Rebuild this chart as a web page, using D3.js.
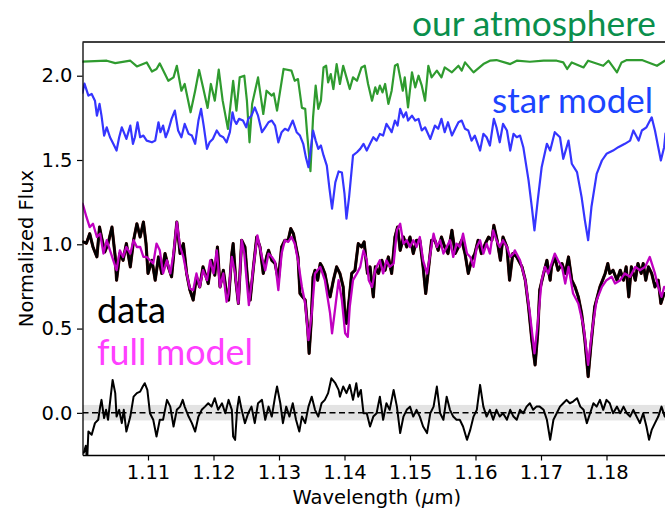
<!DOCTYPE html>
<html><head><meta charset="utf-8">
<script src="https://cdn.jsdelivr.net/npm/d3@7"></script>
<style>body{margin:0;background:#fff}svg{display:block}</style>
</head><body>
<svg id="chart" width="665" height="513"></svg>
<script>
// ---- data (wavelength in micron, normalized flux) ----
const xTicks = [1.11, 1.12, 1.13, 1.14, 1.15, 1.16, 1.17, 1.18];
const yTicks = [0.0, 0.5, 1.0, 1.5, 2.0];
const xDomain = [1.1, 1.19];
const yDomain = [-0.25, 2.2];
const residualBand = [-0.045, 0.047];
const labels = { atmosphere: "our atmosphere", star: "star model", data: "data", model: "full model",
                 xLabel: "Wavelength (", xUnit: "μ", xUnit2: "m)", yLabel: "Normalized Flux" };

const atmosphere = [[1.1000,2.083],[1.1037,2.089],[1.1050,2.075],[1.1073,2.089],[1.1083,2.055],[1.1098,2.079],[1.1106,2.025],[1.1113,2.040],[1.1118,2.073],[1.1131,1.970],[1.1139,1.990],[1.1144,2.059],[1.1151,1.911],[1.1156,1.951],[1.1165,1.783],[1.1172,1.911],[1.1178,2.034],[1.1184,1.931],[1.1191,1.809],[1.1196,1.951],[1.1202,1.852],[1.1208,2.036],[1.1214,1.852],[1.1222,1.685],[1.1230,1.970],[1.1235,1.793],[1.1240,1.990],[1.1247,2.000],[1.1251,1.852],[1.1255,1.605],[1.1259,1.833],[1.1268,1.990],[1.1272,1.882],[1.1276,1.773],[1.1281,1.911],[1.1289,1.882],[1.1292,1.895],[1.1297,1.793],[1.1307,2.040],[1.1319,2.030],[1.1324,1.970],[1.1329,1.980],[1.1335,1.809],[1.1340,1.803],[1.1343,1.655],[1.1348,1.434],[1.1352,1.753],[1.1356,1.941],[1.1360,1.803],[1.1364,1.852],[1.1368,2.049],[1.1372,2.059],[1.1375,1.960],[1.1379,2.010],[1.1383,1.921],[1.1388,2.069],[1.1393,1.951],[1.1398,2.059],[1.1403,1.990],[1.1408,1.921],[1.1413,1.990],[1.1419,1.970],[1.1426,2.049],[1.1431,2.059],[1.1436,1.951],[1.1442,1.852],[1.1447,1.931],[1.1450,1.892],[1.1454,1.941],[1.1458,1.901],[1.1462,1.951],[1.1467,1.833],[1.1472,1.911],[1.1477,2.059],[1.1481,2.069],[1.1485,1.990],[1.1489,1.911],[1.1492,1.990],[1.1497,1.812],[1.1503,2.020],[1.1508,1.931],[1.1513,2.000],[1.1518,1.941],[1.1523,1.852],[1.1528,2.059],[1.1533,1.990],[1.1541,2.030],[1.1548,1.990],[1.1553,2.049],[1.1564,2.020],[1.1574,2.059],[1.1579,2.030],[1.1584,2.079],[1.1597,2.020],[1.1612,2.069],[1.1622,2.089],[1.1632,2.093],[1.1653,2.069],[1.1663,2.089],[1.1683,2.083],[1.1704,2.089],[1.1724,2.089],[1.1734,2.079],[1.1740,2.040],[1.1747,2.079],[1.1765,2.049],[1.1772,2.089],[1.1795,2.059],[1.1803,2.089],[1.1816,2.020],[1.1823,2.079],[1.1831,2.093],[1.1854,2.093],[1.1877,2.059],[1.1889,2.089]];

const starModel = [[1.1000,1.899],[1.1003,1.953],[1.1009,1.882],[1.1014,1.892],[1.1019,1.852],[1.1022,1.763],[1.1026,1.833],[1.1029,1.763],[1.1033,1.645],[1.1037,1.694],[1.1042,1.635],[1.1047,1.596],[1.1052,1.556],[1.1056,1.635],[1.1060,1.694],[1.1063,1.665],[1.1067,1.625],[1.1073,1.704],[1.1077,1.596],[1.1080,1.635],[1.1084,1.724],[1.1088,1.635],[1.1093,1.645],[1.1098,1.615],[1.1106,1.605],[1.1111,1.615],[1.1116,1.724],[1.1119,1.665],[1.1123,1.704],[1.1127,1.635],[1.1131,1.675],[1.1136,1.744],[1.1141,1.793],[1.1146,1.675],[1.1151,1.635],[1.1156,1.714],[1.1162,1.655],[1.1167,1.645],[1.1172,1.596],[1.1177,1.734],[1.1181,1.803],[1.1185,1.704],[1.1190,1.566],[1.1194,1.605],[1.1199,1.625],[1.1205,1.675],[1.1210,1.645],[1.1215,1.635],[1.1220,1.605],[1.1225,1.665],[1.1229,1.783],[1.1232,1.734],[1.1235,1.714],[1.1239,1.744],[1.1245,1.734],[1.1250,1.694],[1.1253,1.744],[1.1258,1.763],[1.1263,1.812],[1.1268,1.763],[1.1274,1.665],[1.1279,1.694],[1.1284,1.724],[1.1289,1.734],[1.1294,1.704],[1.1299,1.605],[1.1304,1.665],[1.1309,1.685],[1.1314,1.675],[1.1321,1.734],[1.1327,1.665],[1.1332,1.645],[1.1337,1.596],[1.1341,1.517],[1.1345,1.457],[1.1348,1.546],[1.1352,1.675],[1.1356,1.615],[1.1360,1.566],[1.1364,1.586],[1.1368,1.527],[1.1373,1.467],[1.1377,1.331],[1.1381,1.211],[1.1386,1.367],[1.1391,1.432],[1.1396,1.426],[1.1400,1.300],[1.1403,1.152],[1.1407,1.280],[1.1413,1.527],[1.1419,1.546],[1.1424,1.566],[1.1429,1.596],[1.1434,1.556],[1.1439,1.596],[1.1444,1.635],[1.1449,1.615],[1.1454,1.655],[1.1459,1.645],[1.1464,1.714],[1.1469,1.685],[1.1472,1.665],[1.1477,1.734],[1.1481,1.704],[1.1485,1.803],[1.1490,1.753],[1.1494,1.783],[1.1497,1.734],[1.1503,1.763],[1.1508,1.734],[1.1513,1.744],[1.1518,1.675],[1.1523,1.694],[1.1531,1.625],[1.1538,1.704],[1.1543,1.685],[1.1548,1.744],[1.1553,1.665],[1.1558,1.724],[1.1564,1.645],[1.1569,1.685],[1.1574,1.724],[1.1579,1.734],[1.1584,1.685],[1.1589,1.675],[1.1594,1.615],[1.1599,1.645],[1.1607,1.556],[1.1612,1.655],[1.1617,1.635],[1.1622,1.586],[1.1628,1.744],[1.1632,1.694],[1.1637,1.605],[1.1642,1.714],[1.1648,1.675],[1.1653,1.556],[1.1658,1.655],[1.1663,1.635],[1.1668,1.645],[1.1673,1.576],[1.1681,1.379],[1.1686,1.221],[1.1690,1.083],[1.1695,1.260],[1.1701,1.457],[1.1709,1.596],[1.1714,1.556],[1.1721,1.665],[1.1729,1.635],[1.1734,1.507],[1.1742,1.615],[1.1747,1.478],[1.1755,1.428],[1.1762,1.280],[1.1767,1.142],[1.1772,1.024],[1.1777,1.221],[1.1785,1.418],[1.1793,1.497],[1.1800,1.537],[1.1810,1.556],[1.1818,1.576],[1.1828,1.596],[1.1836,1.615],[1.1841,1.675],[1.1849,1.615],[1.1854,1.675],[1.1861,1.694],[1.1869,1.753],[1.1874,1.675],[1.1879,1.576],[1.1883,1.497],[1.1888,1.576],[1.1890,1.657]];

const observed = [[1.1001,1.014],[1.1006,1.006],[1.1011,1.063],[1.1016,0.984],[1.1022,0.925],[1.1026,1.102],[1.1029,1.043],[1.1034,0.954],[1.1039,1.004],[1.1045,1.102],[1.1050,0.925],[1.1052,0.787],[1.1057,0.945],[1.1062,0.905],[1.1067,1.004],[1.1073,0.866],[1.1078,1.024],[1.1083,1.122],[1.1088,1.043],[1.1093,1.132],[1.1097,1.004],[1.1100,0.827],[1.1106,0.905],[1.1111,0.787],[1.1116,0.925],[1.1121,0.827],[1.1126,0.945],[1.1131,0.866],[1.1136,0.807],[1.1144,1.132],[1.1149,0.945],[1.1154,1.004],[1.1159,0.827],[1.1164,0.728],[1.1169,0.669],[1.1174,0.807],[1.1179,0.747],[1.1184,0.866],[1.1192,0.767],[1.1197,0.905],[1.1202,0.817],[1.1206,0.984],[1.1210,0.747],[1.1215,0.846],[1.1220,0.708],[1.1223,0.669],[1.1228,0.945],[1.1230,1.004],[1.1234,0.787],[1.1238,0.649],[1.1243,1.024],[1.1248,0.984],[1.1252,0.787],[1.1256,0.669],[1.1261,0.866],[1.1266,1.043],[1.1271,0.984],[1.1276,0.827],[1.1281,0.925],[1.1284,0.964],[1.1289,0.905],[1.1294,0.886],[1.1299,0.787],[1.1304,0.984],[1.1309,1.024],[1.1314,1.024],[1.1318,1.093],[1.1322,1.063],[1.1326,0.984],[1.1329,0.925],[1.1332,0.708],[1.1336,0.688],[1.1340,0.669],[1.1344,0.491],[1.1346,0.353],[1.1349,0.531],[1.1352,0.807],[1.1355,0.846],[1.1359,0.787],[1.1363,0.886],[1.1366,0.866],[1.1370,0.827],[1.1375,0.728],[1.1378,0.688],[1.1383,0.787],[1.1388,0.866],[1.1393,0.827],[1.1398,0.747],[1.1401,0.550],[1.1403,0.531],[1.1407,0.669],[1.1411,0.827],[1.1416,0.846],[1.1421,1.004],[1.1426,0.984],[1.1430,1.014],[1.1435,0.827],[1.1439,0.866],[1.1444,0.688],[1.1447,0.866],[1.1452,0.827],[1.1457,0.905],[1.1462,0.846],[1.1467,0.925],[1.1472,0.827],[1.1477,1.043],[1.1481,1.102],[1.1485,0.964],[1.1490,1.043],[1.1495,0.984],[1.1500,1.043],[1.1505,0.945],[1.1510,1.024],[1.1515,1.024],[1.1520,0.866],[1.1524,0.708],[1.1528,0.846],[1.1533,1.024],[1.1538,1.024],[1.1543,0.964],[1.1548,1.043],[1.1553,0.984],[1.1558,0.945],[1.1564,1.083],[1.1569,0.945],[1.1574,0.984],[1.1579,1.024],[1.1584,0.945],[1.1589,0.827],[1.1594,0.905],[1.1599,0.945],[1.1604,1.024],[1.1609,0.945],[1.1615,1.004],[1.1620,1.043],[1.1625,1.024],[1.1628,1.112],[1.1633,1.024],[1.1638,0.905],[1.1642,1.043],[1.1648,0.984],[1.1652,0.787],[1.1657,0.945],[1.1663,0.925],[1.1671,0.866],[1.1676,0.787],[1.1681,0.629],[1.1686,0.432],[1.1691,0.284],[1.1695,0.472],[1.1698,0.728],[1.1704,0.827],[1.1709,0.905],[1.1714,0.787],[1.1716,0.866],[1.1721,0.925],[1.1726,0.846],[1.1732,0.886],[1.1737,0.827],[1.1742,0.925],[1.1747,0.787],[1.1752,0.747],[1.1757,0.688],[1.1762,0.590],[1.1767,0.432],[1.1772,0.215],[1.1776,0.392],[1.1782,0.629],[1.1790,0.747],[1.1798,0.827],[1.1802,0.886],[1.1805,0.827],[1.1810,0.846],[1.1816,0.787],[1.1821,0.846],[1.1826,0.787],[1.1830,0.866],[1.1834,0.688],[1.1838,0.866],[1.1844,0.787],[1.1848,0.886],[1.1853,0.827],[1.1856,0.886],[1.1860,0.787],[1.1864,0.866],[1.1869,0.827],[1.1874,0.747],[1.1879,0.787],[1.1883,0.649],[1.1888,0.708]];

const fullModel = [[1.1000,1.241],[1.1001,1.231],[1.1006,1.162],[1.1011,1.102],[1.1016,1.122],[1.1022,1.043],[1.1027,1.063],[1.1032,0.945],[1.1037,1.024],[1.1042,0.964],[1.1047,0.905],[1.1052,0.846],[1.1057,0.964],[1.1062,0.925],[1.1067,0.984],[1.1073,0.945],[1.1078,1.024],[1.1083,0.984],[1.1088,0.984],[1.1093,0.925],[1.1098,0.925],[1.1103,0.905],[1.1108,0.886],[1.1113,1.004],[1.1118,0.964],[1.1123,0.827],[1.1129,0.905],[1.1134,0.827],[1.1139,0.945],[1.1144,1.132],[1.1149,0.984],[1.1154,0.925],[1.1159,0.827],[1.1164,0.738],[1.1169,0.728],[1.1174,0.827],[1.1179,0.747],[1.1184,0.846],[1.1190,0.787],[1.1195,0.905],[1.1200,0.827],[1.1205,0.964],[1.1210,0.747],[1.1215,0.827],[1.1220,0.659],[1.1223,0.708],[1.1228,0.925],[1.1233,0.827],[1.1238,0.649],[1.1243,1.024],[1.1247,0.945],[1.1254,0.639],[1.1261,0.866],[1.1267,1.053],[1.1274,0.925],[1.1279,0.846],[1.1284,0.945],[1.1289,0.925],[1.1294,0.895],[1.1299,0.728],[1.1304,0.945],[1.1309,1.024],[1.1314,1.014],[1.1319,1.043],[1.1324,1.004],[1.1329,0.905],[1.1335,0.747],[1.1340,0.649],[1.1345,0.432],[1.1350,0.590],[1.1355,0.827],[1.1363,0.866],[1.1370,0.787],[1.1378,0.590],[1.1381,0.472],[1.1386,0.629],[1.1391,0.787],[1.1396,0.669],[1.1401,0.472],[1.1405,0.451],[1.1408,0.629],[1.1413,0.787],[1.1419,0.827],[1.1424,0.866],[1.1429,0.964],[1.1434,0.905],[1.1437,0.787],[1.1442,0.747],[1.1447,0.846],[1.1449,0.866],[1.1454,0.905],[1.1459,0.827],[1.1464,0.905],[1.1469,0.866],[1.1475,0.886],[1.1480,1.083],[1.1485,1.122],[1.1490,1.004],[1.1495,1.024],[1.1500,0.984],[1.1505,1.024],[1.1510,0.984],[1.1515,1.043],[1.1520,0.905],[1.1526,0.827],[1.1531,0.945],[1.1536,1.063],[1.1541,0.984],[1.1546,1.024],[1.1551,0.945],[1.1556,0.984],[1.1561,1.024],[1.1566,0.925],[1.1571,1.004],[1.1576,0.984],[1.1581,1.063],[1.1587,0.945],[1.1592,0.925],[1.1597,0.866],[1.1602,0.984],[1.1607,1.024],[1.1612,0.945],[1.1617,1.004],[1.1622,0.945],[1.1627,1.083],[1.1632,1.024],[1.1637,0.984],[1.1642,1.024],[1.1648,0.984],[1.1653,0.925],[1.1658,0.945],[1.1660,0.964],[1.1668,0.905],[1.1676,0.787],[1.1683,0.590],[1.1690,0.353],[1.1695,0.531],[1.1701,0.787],[1.1706,0.866],[1.1711,0.827],[1.1716,0.886],[1.1721,0.945],[1.1726,0.905],[1.1732,0.866],[1.1737,0.767],[1.1742,0.866],[1.1749,0.708],[1.1757,0.649],[1.1765,0.511],[1.1772,0.284],[1.1778,0.491],[1.1785,0.669],[1.1793,0.747],[1.1800,0.787],[1.1808,0.807],[1.1813,0.767],[1.1821,0.787],[1.1828,0.827],[1.1836,0.807],[1.1844,0.866],[1.1851,0.846],[1.1859,0.866],[1.1866,0.925],[1.1874,0.827],[1.1879,0.747],[1.1884,0.688],[1.1888,0.747]];

const residual = [[1.1002,-0.237],[1.1005,-0.195],[1.1007,-0.290],[1.1009,-0.111],[1.1014,-0.130],[1.1019,-0.061],[1.1024,-0.041],[1.1027,0.037],[1.1029,0.077],[1.1033,-0.031],[1.1036,0.018],[1.1039,-0.041],[1.1043,0.096],[1.1046,0.195],[1.1050,0.117],[1.1052,-0.022],[1.1056,0.018],[1.1060,-0.061],[1.1063,0.018],[1.1067,-0.111],[1.1073,-0.022],[1.1078,0.096],[1.1083,0.117],[1.1088,0.126],[1.1092,0.156],[1.1095,0.176],[1.1099,0.136],[1.1103,-0.002],[1.1108,-0.041],[1.1113,-0.140],[1.1118,-0.041],[1.1123,-0.041],[1.1129,0.077],[1.1134,0.037],[1.1139,-0.081],[1.1144,0.018],[1.1149,0.037],[1.1153,0.077],[1.1156,0.037],[1.1162,-0.022],[1.1167,-0.061],[1.1172,-0.111],[1.1177,-0.022],[1.1182,0.018],[1.1187,0.037],[1.1192,0.057],[1.1197,0.037],[1.1202,0.087],[1.1207,0.018],[1.1213,0.057],[1.1218,-0.002],[1.1223,0.077],[1.1228,0.018],[1.1230,-0.140],[1.1233,-0.160],[1.1236,0.018],[1.1239,0.096],[1.1243,0.018],[1.1248,-0.061],[1.1253,-0.002],[1.1258,0.037],[1.1263,-0.061],[1.1268,0.057],[1.1274,0.077],[1.1279,-0.041],[1.1284,0.037],[1.1289,-0.022],[1.1294,0.096],[1.1297,0.156],[1.1302,0.057],[1.1306,-0.061],[1.1311,0.037],[1.1316,-0.022],[1.1321,0.057],[1.1326,-0.041],[1.1331,-0.111],[1.1335,-0.022],[1.1340,-0.061],[1.1345,0.037],[1.1350,0.096],[1.1355,0.018],[1.1360,-0.022],[1.1365,0.057],[1.1370,0.077],[1.1375,0.117],[1.1380,0.205],[1.1386,0.176],[1.1391,0.136],[1.1393,0.096],[1.1398,0.156],[1.1403,0.117],[1.1408,0.166],[1.1413,0.077],[1.1418,0.176],[1.1421,0.096],[1.1425,0.136],[1.1429,-0.002],[1.1434,-0.002],[1.1439,-0.081],[1.1444,-0.022],[1.1449,-0.002],[1.1454,0.096],[1.1459,-0.041],[1.1464,0.057],[1.1469,0.018],[1.1475,0.136],[1.1480,0.037],[1.1485,-0.120],[1.1490,-0.022],[1.1495,0.018],[1.1500,0.037],[1.1505,-0.022],[1.1510,0.018],[1.1515,-0.022],[1.1520,-0.081],[1.1526,-0.120],[1.1531,-0.002],[1.1536,0.037],[1.1541,0.156],[1.1546,-0.002],[1.1551,-0.041],[1.1556,0.096],[1.1561,0.018],[1.1566,-0.022],[1.1571,-0.041],[1.1576,-0.041],[1.1581,-0.081],[1.1587,-0.160],[1.1592,-0.101],[1.1597,-0.022],[1.1602,0.018],[1.1607,0.166],[1.1612,0.037],[1.1617,-0.022],[1.1622,0.018],[1.1627,-0.041],[1.1632,0.018],[1.1637,-0.022],[1.1642,-0.002],[1.1648,-0.041],[1.1653,0.018],[1.1658,-0.022],[1.1663,-0.041],[1.1668,0.018],[1.1673,-0.002],[1.1678,0.037],[1.1683,0.057],[1.1688,0.018],[1.1693,0.037],[1.1698,0.037],[1.1704,0.018],[1.1709,-0.041],[1.1714,-0.160],[1.1719,-0.041],[1.1724,-0.002],[1.1729,0.037],[1.1734,0.057],[1.1739,0.077],[1.1744,0.057],[1.1749,0.067],[1.1755,0.087],[1.1760,0.037],[1.1765,0.018],[1.1770,-0.061],[1.1775,-0.002],[1.1780,0.057],[1.1785,0.037],[1.1790,0.077],[1.1795,0.018],[1.1800,0.077],[1.1805,0.057],[1.1810,-0.002],[1.1816,0.037],[1.1821,-0.002],[1.1826,0.037],[1.1831,-0.002],[1.1836,-0.022],[1.1841,0.018],[1.1846,-0.022],[1.1851,-0.061],[1.1856,-0.002],[1.1861,-0.081],[1.1865,-0.160],[1.1869,-0.101],[1.1874,-0.061],[1.1879,-0.022],[1.1884,0.037],[1.1889,-0.022]];

// ---- drawing ----
const svg = d3.select("#chart");
const L = 82.5, R = 672, T = 42, B = 455;
const x = d3.scaleLinear().domain(xDomain).range([L, R]);
const y = d3.scaleLinear().domain(yDomain).range([B, T]);

svg.append("defs").append("clipPath").attr("id", "plotclip")
  .append("rect").attr("x", L).attr("y", T).attr("width", R - L).attr("height", B - T);

const plot = svg.append("g").attr("clip-path", "url(#plotclip)");
const line = d3.line().x(d => x(d[0])).y(d => y(d[1]));

// residual uncertainty band and zero line
plot.append("rect")
  .attr("x", x(xDomain[0])).attr("width", x(xDomain[1]) - x(xDomain[0]))
  .attr("y", y(residualBand[1])).attr("height", y(residualBand[0]) - y(residualBand[1]))
  .attr("fill", "#e3e3e3");
plot.append("line")
  .attr("x1", x(xDomain[0])).attr("x2", x(xDomain[1]))
  .attr("y1", y(0)).attr("y2", y(0))
  .attr("stroke", "#000").attr("stroke-width", 1.5).attr("stroke-dasharray", "6,3.5");

function draw(data, color, width) {
  plot.append("path").datum(data).attr("d", line)
    .attr("fill", "none").attr("stroke", color).attr("stroke-width", width)
    .attr("stroke-linejoin", "round").attr("stroke-linecap", "round");
}
draw(residual, "#000", 2.0);
draw(atmosphere, "#2f9b2f", 2.2);
draw(starModel, "#3535ff", 2.2);
draw(observed, "#5a0c0c", 3.1);
draw(observed, "#000", 2.5);
draw(fullModel, "#c000c0", 2.3);

// axes
const tickFont = "DejaVu Sans, Verdana, sans-serif";
const yAxis = svg.append("g").attr("transform", `translate(${L},0)`)
  .call(d3.axisLeft(y).tickValues(yTicks).tickFormat(d3.format(".1f")).tickSize(5.5).tickPadding(4.5).tickSizeOuter(0));
const xAxis = svg.append("g").attr("transform", `translate(0,${B})`)
  .call(d3.axisBottom(x).tickValues(xTicks).tickFormat(d3.format(".2f")).tickSize(5.5).tickPadding(4.5).tickSizeOuter(0));
[yAxis, xAxis].forEach(a => {
  a.selectAll("text").attr("font-family", tickFont).attr("font-size", 19.5).attr("fill", "#000");
  a.selectAll("line").attr("stroke", "#000").attr("stroke-width", 1.2);
  a.select(".domain").attr("stroke", "#000").attr("stroke-width", 1.3);
});
// top spine
svg.append("line").attr("x1", L).attr("x2", R).attr("y1", T).attr("y2", T)
  .attr("stroke", "#000").attr("stroke-width", 1.3);

// axis labels
const xl = svg.append("text").attr("x", (L + R) / 2 - 0.5).attr("y", 504)
  .attr("text-anchor", "middle").attr("font-family", tickFont).attr("font-size", 19.5).attr("fill", "#000");
xl.append("tspan").text(labels.xLabel);
xl.append("tspan").attr("font-style", "italic").text(labels.xUnit);
xl.append("tspan").text(labels.xUnit2);

svg.append("text").attr("transform", `translate(33,${(T + B) / 2}) rotate(-90)`)
  .attr("text-anchor", "middle").attr("font-family", tickFont).attr("font-size", 19.5).attr("fill", "#000")
  .text(labels.yLabel);

// annotations, sized to match their span in the figure
const annFont = "Lato, 'Open Sans', sans-serif";
function annotate(txt, color, left, right, baseline) {
  const t = svg.append("text").attr("font-family", annFont).attr("font-size", 36)
    .attr("fill", color).attr("y", baseline).attr("x", left).text(txt);
  const w = t.node().getComputedTextLength();
  t.attr("font-size", 36 * (right - left) / w);
}
annotate(labels.atmosphere, "#0a8f4c", 412, 656, 35.5);
annotate(labels.star, "#1c44ff", 492, 653, 113);
annotate(labels.data, "#000", 97, 166, 323);
annotate(labels.model, "#ff40ff", 97, 253, 365);
</script>
</body></html>
